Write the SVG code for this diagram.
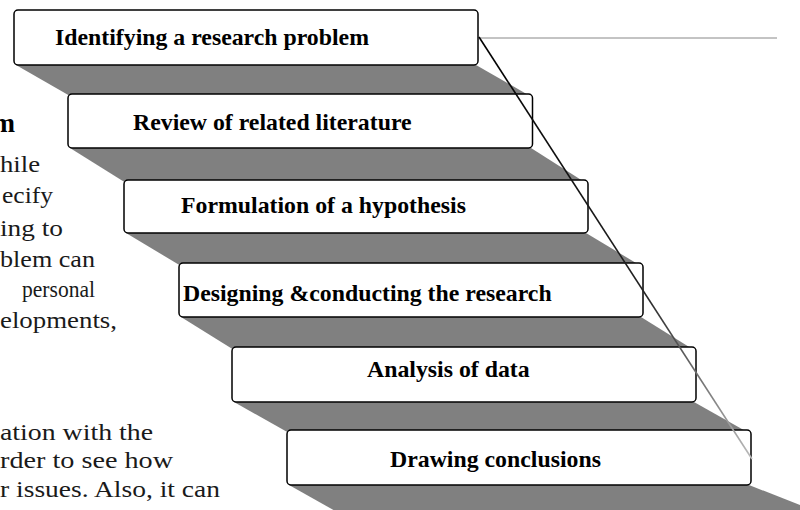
<svg xmlns="http://www.w3.org/2000/svg" width="800" height="510" viewBox="0 0 800 510">
<style>
.box{fill:#fff;stroke:#000;stroke-width:1.5}
.shadow{fill:#808080}
.lbl{font-family:"Liberation Serif","Times New Roman",serif;font-weight:bold;font-size:23.8px;fill:#000}
.bg{font-family:"Liberation Serif","Times New Roman",serif;font-size:24px;fill:#1a1a1a}
.bgb{font-family:"Liberation Serif","Times New Roman",serif;font-size:27px;font-weight:bold;fill:#000}
</style>
<defs>
<linearGradient id="fade" gradientUnits="userSpaceOnUse" x1="479" y1="37" x2="752" y2="459">
<stop offset="0" stop-color="#000"/>
<stop offset="0.6" stop-color="#222"/>
<stop offset="1" stop-color="#bbb"/>
</linearGradient>
</defs>
<g id="background-text">
<text class="bgb" x="15" y="132" text-anchor="end">m</text>
<text class="bg" x="0" y="172" textLength="40" lengthAdjust="spacingAndGlyphs">hile</text>
<text class="bg" x="2" y="203" textLength="51" lengthAdjust="spacingAndGlyphs">ecify</text>
<text class="bg" x="0" y="236" textLength="63" lengthAdjust="spacingAndGlyphs">ing to</text>
<text class="bg" x="0" y="267" textLength="95" lengthAdjust="spacingAndGlyphs">blem can</text>
<text class="bg" x="22" y="297" textLength="73" lengthAdjust="spacingAndGlyphs">personal</text>
<text class="bg" x="0" y="328" textLength="117" lengthAdjust="spacingAndGlyphs">elopments,</text>
<text class="bg" x="0" y="440" textLength="153" lengthAdjust="spacingAndGlyphs">ation with the</text>
<text class="bg" x="0" y="468" textLength="173" lengthAdjust="spacingAndGlyphs">rder to see how</text>
<text class="bg" x="0" y="497" textLength="220" lengthAdjust="spacingAndGlyphs">r issues. Also, it can</text>
</g>
<g id="step1">
<polygon class="shadow" points="16,65 476,65 530,96 70,96"/>
<rect class="box" x="14" y="10" width="464" height="55" rx="4"/>
<text class="lbl" x="55" y="45">Identifying a research problem</text>
</g>
<g id="step2">
<polygon class="shadow" points="70,148 531,148 586,183 126,183"/>
<rect class="box" x="68" y="94" width="464.5" height="54" rx="4"/>
<text class="lbl" x="133" y="130">Review of related literature</text>
</g>
<g id="step3">
<polygon class="shadow" points="126,233 586,233 641,266 181,266"/>
<rect class="box" x="124" y="180" width="464" height="53" rx="4"/>
<text class="lbl" x="181" y="213">Formulation of a hypothesis</text>
</g>
<g id="step4">
<polygon class="shadow" points="181,317 641,317 694,350 234,350"/>
<rect class="box" x="179" y="263" width="464" height="54" rx="4"/>
<text class="lbl" x="183" y="301">Designing &amp;conducting the research</text>
</g>
<g id="step5">
<polygon class="shadow" points="234,402 694,402 749,433 289,433"/>
<rect class="box" x="232" y="347" width="464" height="55" rx="4"/>
<text class="lbl" x="367" y="377">Analysis of data</text>
</g>
<g id="step6">
<polygon class="shadow" points="289,485 749,485 800,505 800,512 337,512"/>
<rect class="box" x="287" y="430" width="464" height="55" rx="4"/>
<text class="lbl" x="390" y="467">Drawing conclusions</text>
</g>
<g id="connectors">
<line x1="480" y1="38" x2="777" y2="38" stroke="#888" stroke-width="1"/>
<line x1="479" y1="37" x2="752" y2="459" stroke="url(#fade)" stroke-width="1.6"/>
</g>
</svg>
